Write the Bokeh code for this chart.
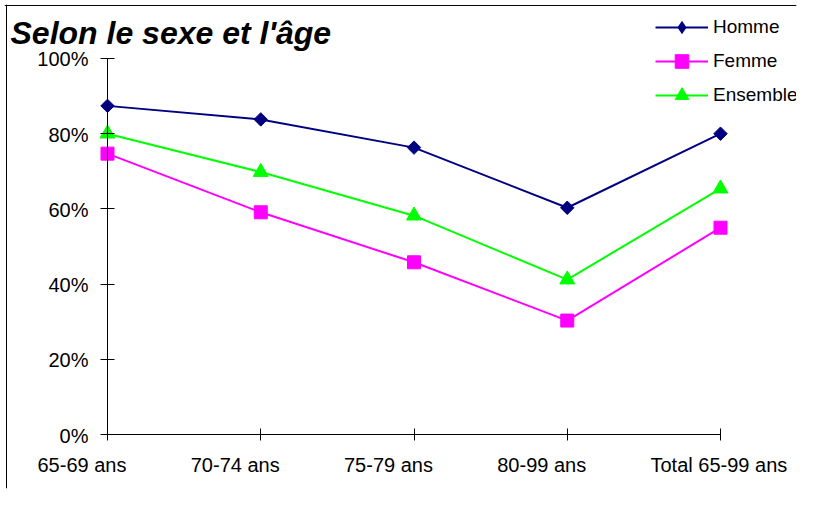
from bokeh.plotting import figure
from bokeh.models import (Range1d, FixedTicker, Label, LabelSet, LinearAxis, Span,
                          ColumnDataSource, Legend)
from bokeh.core.properties import value
from bokeh.embed import file_html
from bokeh.resources import INLINE

categories = ["65-69 ans", "70-74 ans", "75-79 ans", "80-99 ans", "Total 65-99 ans"]
homme = [0.874, 0.838, 0.763, 0.603, 0.800]
femme = [0.747, 0.591, 0.458, 0.303, 0.550]
ensemble = [0.800, 0.698, 0.582, 0.412, 0.654]
y_ticks = [0, 0.2, 0.4, 0.6, 0.8, 1.0]
y_tick_labels = ["0%", "20%", "40%", "60%", "80%", "100%"]
title_text = "Selon le sexe et l'âge"

FONT = "Liberation Sans"
xs = list(range(len(categories)))
n = len(categories)

# frame covers (nearly) the whole canvas; data 0..n-1 / 0..1 sit inside it
p = figure(width=800, height=492, output_backend="svg", toolbar_location=None,
           x_range=Range1d(-0.6721, 4.4959), y_range=Range1d(-0.1436, 1.1436),
           min_border_left=4, min_border_right=4, min_border_top=4, min_border_bottom=4)
p.outline_line_color = None
p.xgrid.visible = False
p.ygrid.visible = False
p.background_fill_color = "white"
p.border_fill_color = "white"

# chart-area border (left and top edges)
p.add_layout(Span(location=-0.659, dimension="height", line_color="black", line_width=1))
p.add_layout(Span(location=1.141, dimension="width", line_color="black", line_width=1))


def style_axis(ax, ticks, bounds, tick_in):
    ax.ticker = FixedTicker(ticks=ticks)
    ax.bounds = bounds
    ax.fixed_location = 0
    ax.major_tick_in = tick_in
    ax.major_tick_out = 0
    ax.minor_tick_line_color = None
    ax.axis_line_color = "black"
    ax.major_tick_line_color = "black"
    ax.major_label_text_alpha = 0
    ax.major_label_text_font_size = "1px"
    ax.major_label_standoff = 0


style_axis(p.yaxis[0], y_ticks, (0, 1), 7)
style_axis(p.xaxis[0], xs, (0, n - 1), 6)
ax_r = LinearAxis()
style_axis(ax_r, y_ticks, (0, 1), 7)
p.add_layout(ax_r, "right")
ax_t = LinearAxis()
style_axis(ax_t, xs, (0, n - 1), 6)
p.add_layout(ax_t, "above")

src_x = ColumnDataSource(dict(x=xs, y=[0] * n, t=categories))
p.add_layout(LabelSet(x="x", y="y", text="t", source=src_x, x_offset=-70, y_offset=-37,
                      text_align="left", text_baseline="alphabetic",
                      text_font=value(FONT), text_font_size=value("20px"),
                      text_color=value("black")))
src_y = ColumnDataSource(dict(x=[0] * len(y_ticks), y=y_ticks, t=y_tick_labels))
p.add_layout(LabelSet(x="x", y="y", text="t", source=src_y, x_offset=-19, y_offset=-1,
                      text_align="right", text_baseline="middle",
                      text_font=value(FONT), text_font_size=value("20px"),
                      text_color=value("black")))

# (name, values, colour, plot marker, size, angle, legend marker)
series = [("Homme", homme, "#000080", "square", 9.5, 0.785398, "diamond"),
          ("Femme", femme, "#FF00FF", "square", 13, 0.0, None),
          ("Ensemble", ensemble, "#00FF00", "triangle", 15, 0.0, None)]
items = []
for name, vals, col, marker, size, ang, lmarker in series:
    src = ColumnDataSource(dict(x=xs, y=vals))
    r1 = p.line("x", "y", source=src, line_color=col, line_width=2)
    r_leg = None
    if lmarker is not None:
        # glyph used for the legend swatch; tiny and hidden under the plot markers
        r_leg = p.scatter("x", "y", source=src, marker=lmarker, size=1,
                          fill_color=col, line_color=col, line_width=0)
    r2 = p.scatter("x", "y", source=src, marker=marker, size=size, angle=ang,
                   fill_color=col, line_color=col)
    items.append((name, [r1, r_leg if r_leg is not None else r2]))

# legend bottom-left relative to frame bottom-left (frame at canvas 4..796, 4..488)
legend = Legend(items=items, location=(651, 376), glyph_width=53, glyph_height=34,
                spacing=0, label_standoff=5, padding=0, margin=0,
                border_line_color=None, background_fill_alpha=0,
                label_text_font=FONT, label_text_font_size="19px",
                label_text_color="black", label_height=34)
p.add_layout(legend)

p.add_layout(Label(x=-0.633, y=1.069, text=title_text, text_font=FONT,
                   text_font_size="32px", text_font_style="bold italic",
                   text_baseline="alphabetic", text_color="black"))

open("out.html", "w").write(file_html(p, INLINE))
